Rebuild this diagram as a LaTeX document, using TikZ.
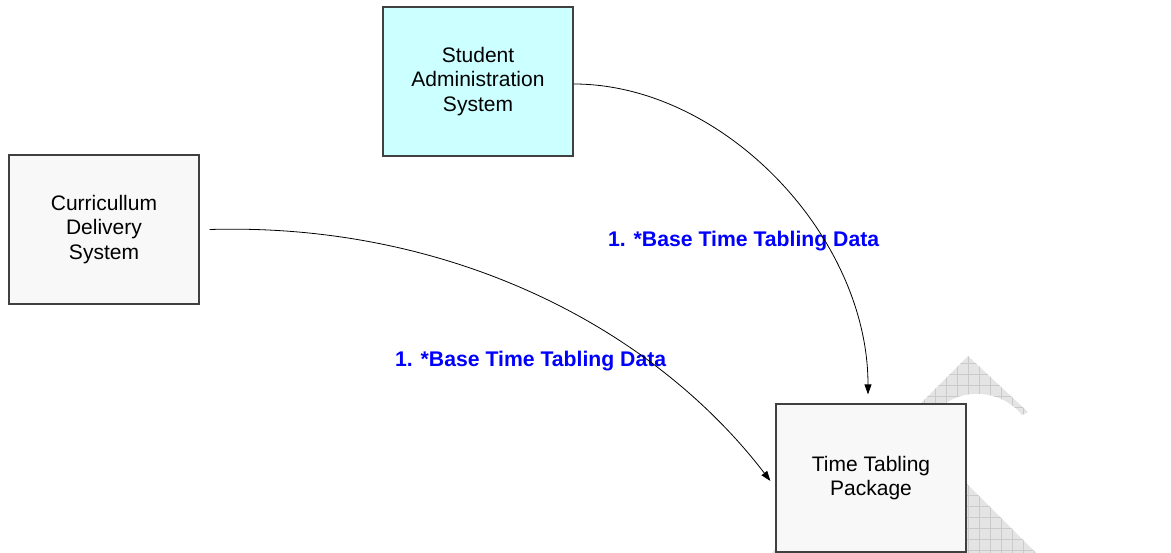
\documentclass[tikz,border=0pt]{standalone}
\usepackage{fontspec}
\setmainfont{Liberation Sans}
\usetikzlibrary{arrows.meta}
\definecolor{sascyan}{HTML}{CCFFFF}
\definecolor{boxgray}{HTML}{F8F8F8}
\definecolor{edgegray}{HTML}{404040}
\definecolor{wmfill}{HTML}{E4E4E4}
\definecolor{wmgrid}{HTML}{CACACA}
\begin{document}
\begin{tikzpicture}[x=1pt,y=-1pt,
  sysbox/.style={draw=edgegray, line width=1.2pt, minimum width=190pt, minimum height=149pt,
    inner sep=0pt, align=center, font=\fontsize{21}{24.5}\selectfont},
  flow/.style={draw=black, line width=0.8pt, -{Triangle[length=10pt,width=7pt]}},
  flowlabel/.style={text=blue, font=\fontsize{21.2}{24}\selectfont\bfseries, inner sep=0pt, anchor=base west}]
\useasboundingbox (0,0) rectangle (1171,553);
% watermark fragment
\begin{scope}
\clip (772,553) -- (968,356) -- (1028,412) -- (1022,415)
      .. controls (1000,388) and (960,388) .. (940,408) -- (795,553) -- cycle
      (930,447) -- (1036,553) -- (900,553) -- cycle;
\fill[wmfill] (700,340) rectangle (1100,553);
\draw[wmgrid, line width=0.6pt, step=11pt] (700,340) grid (1100,553);
\end{scope}
% systems
\node[sysbox, fill=sascyan] (sas) at (478,81.5) {Student\\Administration\\System};
\node[sysbox, fill=boxgray] (cds) at (104,229.5) {Curricullum\\Delivery\\System};
\node[sysbox, fill=boxgray, minimum height=148pt] (ttp) at (871,478) {Time Tabling\\Package};
% labels
\node[flowlabel] (l1) at (608,247) {1. *Base Time Tabling Data};
\node[flowlabel] (l2) at (395,367) {1. *Base Time Tabling Data};
% flows
\draw[flow] ([yshift=-2.5pt]sas.east) .. controls +(150,0) and +(0,-158) .. ([xshift=-3pt,yshift=9pt]ttp.north);
\draw[flow] ([xshift=10pt]cds.east) .. controls +(240,-7) and +(-118,-154) .. ([xshift=-5pt,yshift=-3pt]ttp.west);
\end{tikzpicture}
\end{document}
